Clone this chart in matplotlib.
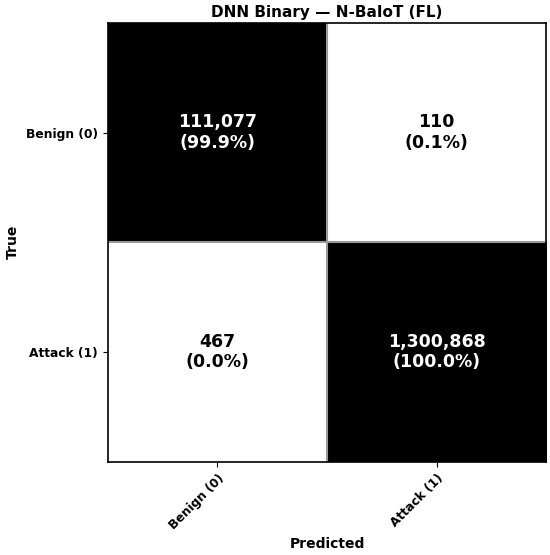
import numpy as np
import matplotlib.pyplot as plt

labels = ["Benign (0)", "Attack (1)"]
counts = np.array([[111077, 110],
                   [467, 1300868]])
pct = counts / counts.sum(axis=1, keepdims=True)

fig = plt.figure(figsize=(5.5, 5.55), dpi=100)
ax = fig.add_axes([0.196, 0.168, 0.797, 0.791])
ax.imshow(pct, cmap="Greys", vmin=0, vmax=1, aspect="auto")

for i in range(2):
    for j in range(2):
        color = "white" if pct[i, j] > 0.5 else "black"
        ax.text(j, i, f"{counts[i, j]:,}\n({pct[i, j] * 100:.1f}%)",
                ha="center", va="center", color=color,
                fontsize=12.5, fontweight="bold", linespacing=1.15)

ax.set_xticks([0, 1])
ax.set_yticks([0, 1])
ax.set_xticklabels(labels, rotation=45, ha="right", rotation_mode="anchor",
                   fontsize=8.8, fontweight="bold")
ax.set_yticklabels(labels, fontsize=8.8, fontweight="bold")
ax.set_xticks([0.5], minor=True)
ax.set_yticks([0.5], minor=True)
ax.grid(which="minor", color="#999999", linewidth=1.5)
ax.tick_params(which="minor", length=0)
ax.set_xlabel("Predicted", fontsize=10, fontweight="bold")
ax.set_ylabel("True", fontsize=10, fontweight="bold")
ax.xaxis.set_label_coords(0.5, -0.172)
ax.yaxis.set_label_coords(-0.2, 0.5)
ax.set_title("DNN Binary — N-BaIoT (FL)", fontsize=11, fontweight="bold", pad=4)
for s in ax.spines.values():
    s.set_linewidth(1.2)

fig.savefig("out.png", dpi=100)
